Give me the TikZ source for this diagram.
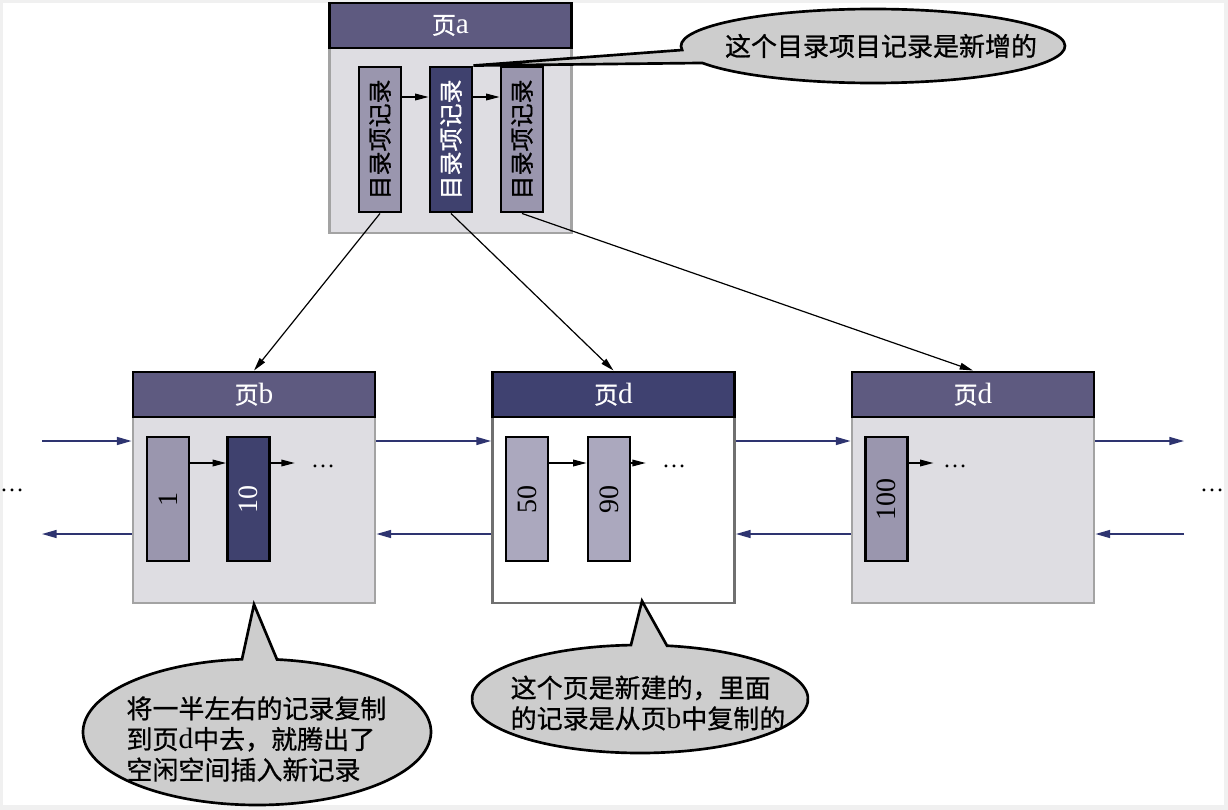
\documentclass[tikz,border=0pt]{standalone}
\usepackage{fontspec}
\setmainfont{Liberation Serif}
\newfontfamily\cjk[FakeBold=0.8]{Noto Sans CJK SC}
\usetikzlibrary{calc,arrows.meta}
\definecolor{frame}{HTML}{F0F0F0}
\definecolor{head}{HTML}{5E5A80}
\definecolor{headnew}{HTML}{3F4170}
\definecolor{body}{HTML}{DEDDE2}
\definecolor{rim}{HTML}{A3A3A3}
\definecolor{rimnew}{HTML}{707070}
\definecolor{rec}{HTML}{9A96AE}
\definecolor{recnew}{HTML}{ABA8BE}
\definecolor{recdark}{HTML}{3F416E}
\definecolor{navy}{HTML}{2E3470}
\definecolor{bubfill}{HTML}{CDCDCD}
\newcommand\pg[1]{{\cjk 页}{\fontsize{22}{22}\selectfont #1}}
\tikzset{
  pagebox/.style={draw=rim, fill=body, line width=2.2pt, minimum width=181.5pt, minimum height=173.25pt, inner sep=0pt},
  hd/.style={draw=black, fill=head, line width=2.2pt, minimum width=181.5pt, minimum height=33.75pt, inner sep=0pt, text=white, font=\fontsize{18}{20}\selectfont, anchor=north},
  recbox/.style={draw=black, fill=rec, line width=2.2pt, minimum width=31.5pt, minimum height=93pt, inner sep=0pt, font=\fontsize{21}{22}\selectfont},
  darkrec/.style={recbox, fill=recdark, text=white},
  ptr/.style={draw=black, line width=0.9pt, -{Triangle[length=10pt,width=5pt]}},
  sib/.style={draw=navy, line width=1.1pt, -{Triangle[length=11pt,width=6pt]}, navy},
  more/.style={font=\fontsize{18}{20}\selectfont, inner sep=0pt, anchor=base},
  bubble/.style={draw=black, fill=bubfill, line width=2pt, line join=miter},
  btxt/.style={font=\cjk\fontsize{19.5}{23}\selectfont, align=left},
}
\begin{document}
\begin{tikzpicture}[x=0.75pt,y=-0.75pt]
  \useasboundingbox (0,0) rectangle (1228,810);
  \fill[frame] (0,0) rectangle (1228,810);
  \fill[white] (3,3) rectangle (1224,805);
  % pages
  \node[pagebox, minimum height=172.5pt] (pa) at (450.5,118) {};
  \node[hd] (pah) at (pa.north) {\pg{a}};
  \node[pagebox] (pb) at (254,487.5) {};
  \node[hd] (pbh) at (pb.north) {\pg{b}};
  \node[pagebox, draw=rimnew, fill=white] (pd) at (613.5,487.5) {};
  \node[hd, fill=headnew] (pdh) at (pd.north) {\pg{d}};
  \node[pagebox] (pe) at (973,487.5) {};
  \node[hd] (peh) at (pe.north) {\pg{d}};
  % records
  \node[recbox, minimum height=108.75pt, font=\fontsize{18}{20}\selectfont] (ra1) at (380,139.5) {\rotatebox{90}{\cjk 目录项记录}};
  \node[darkrec, minimum height=108.75pt, font=\fontsize{18}{20}\selectfont] (ra2) at (451,139.5) {\rotatebox{90}{\cjk 目录项记录}};
  \node[recbox, minimum height=108.75pt, font=\fontsize{18}{20}\selectfont] (ra3) at (522,139.5) {\rotatebox{90}{\cjk 目录项记录}};
  \node[recbox] (rb1) at (168,499) {\rotatebox{90}{1}};
  \node[darkrec] (rb2) at (248.5,499) {\rotatebox{90}{10}};
  \node[recbox, fill=recnew] (rd1) at (527,499) {\rotatebox{90}{50}};
  \node[recbox, fill=recnew] (rd2) at (609,499) {\rotatebox{90}{90}};
  \node[recbox] (re1) at (886.5,499) {\rotatebox{90}{100}};
  \node[more] (mb) at (323,467) {…};
  \node[more] (md) at (674,467) {…};
  \node[more] (me) at (955,467) {…};
  \node[more] (ml) at (12,491) {…};
  \node[more] (mr) at (1212,491) {…};
  % record lists
  \coordinate (ya) at (0,97);
  \coordinate (yr) at (0,463);
  \draw[ptr] (ra1.east |- ya) -- (ra2.west |- ya);
  \draw[ptr] (ra2.east |- ya) -- (ra3.west |- ya);
  \draw[ptr] (rb1.east |- yr) -- (rb2.west |- yr);
  \draw[ptr] (rb2.east |- yr) -- ([xshift=-12pt]mb.west |- yr);
  \draw[ptr] (rd1.east |- yr) -- (rd2.west |- yr);
  \draw[ptr] (rd2.east |- yr) -- ([xshift=-12pt]md.west |- yr);
  \draw[ptr] (re1.east |- yr) -- ([xshift=-7pt]me.west |- yr);
  % children
  \draw[ptr] (ra1.south) -- (pbh.north);
  \draw[ptr] (ra2.south) -- (pdh.north);
  \draw[ptr] (ra3.south) -- (peh.north);
  % page links
  \coordinate (lt) at (42,441);
  \coordinate (lb) at (42,534);
  \coordinate (rt) at (1184,441);
  \coordinate (rb) at (1184,534);
  \draw[sib] (lt) -- (pb.west |- lt);
  \draw[sib] (pb.east |- lt) -- (pd.west |- lt);
  \draw[sib] (pd.east |- lt) -- (pe.west |- lt);
  \draw[sib] (pe.east |- lt) -- (rt);
  \draw[sib] (pb.west |- lb) -- (lb);
  \draw[sib] (pd.west |- lb) -- (pb.east |- lb);
  \draw[sib] (pe.west |- lb) -- (pd.east |- lb);
  \draw[sib] (rb) -- (pe.east |- rb);
  % callouts
  \coordinate (ct) at (873,46);
  \coordinate (cl) at (257,732);
  \coordinate (cr) at (640,699);
  \coordinate (tipd) at (642,601);
  \filldraw[bubble] (ra2.north east) -- ($(ct)+(173.8:192 and 37)$)
    arc[start angle=173.8, end angle=512.7, x radius=192, y radius=37] -- cycle;
  \filldraw[bubble] (pb.south) -- ($(cl)+(276.6:174 and 73)$)
    arc[start angle=276.6, end angle=625.05, x radius=174, y radius=73] -- cycle;
  \filldraw[bubble] (tipd) -- ($(cr)+(279.25:168 and 54)$)
    arc[start angle=279.25, end angle=626.9, x radius=168, y radius=54] -- cycle;
  \node[btxt] (nt) at (881,46) {这个目录项目记录是新增的};
  \node[btxt] (nl) at (256.5,739) {将一半左右的记录复制\\到页{\rmfamily\fontsize{22}{23}\selectfont d}中去，就腾出了\\空闲空间插入新记录};
  \node[btxt] (nr) at (648,703) {这个页是新建的，里面\\的记录是从页{\rmfamily\fontsize{22}{23}\selectfont b}中复制的};
\end{tikzpicture}
\end{document}
